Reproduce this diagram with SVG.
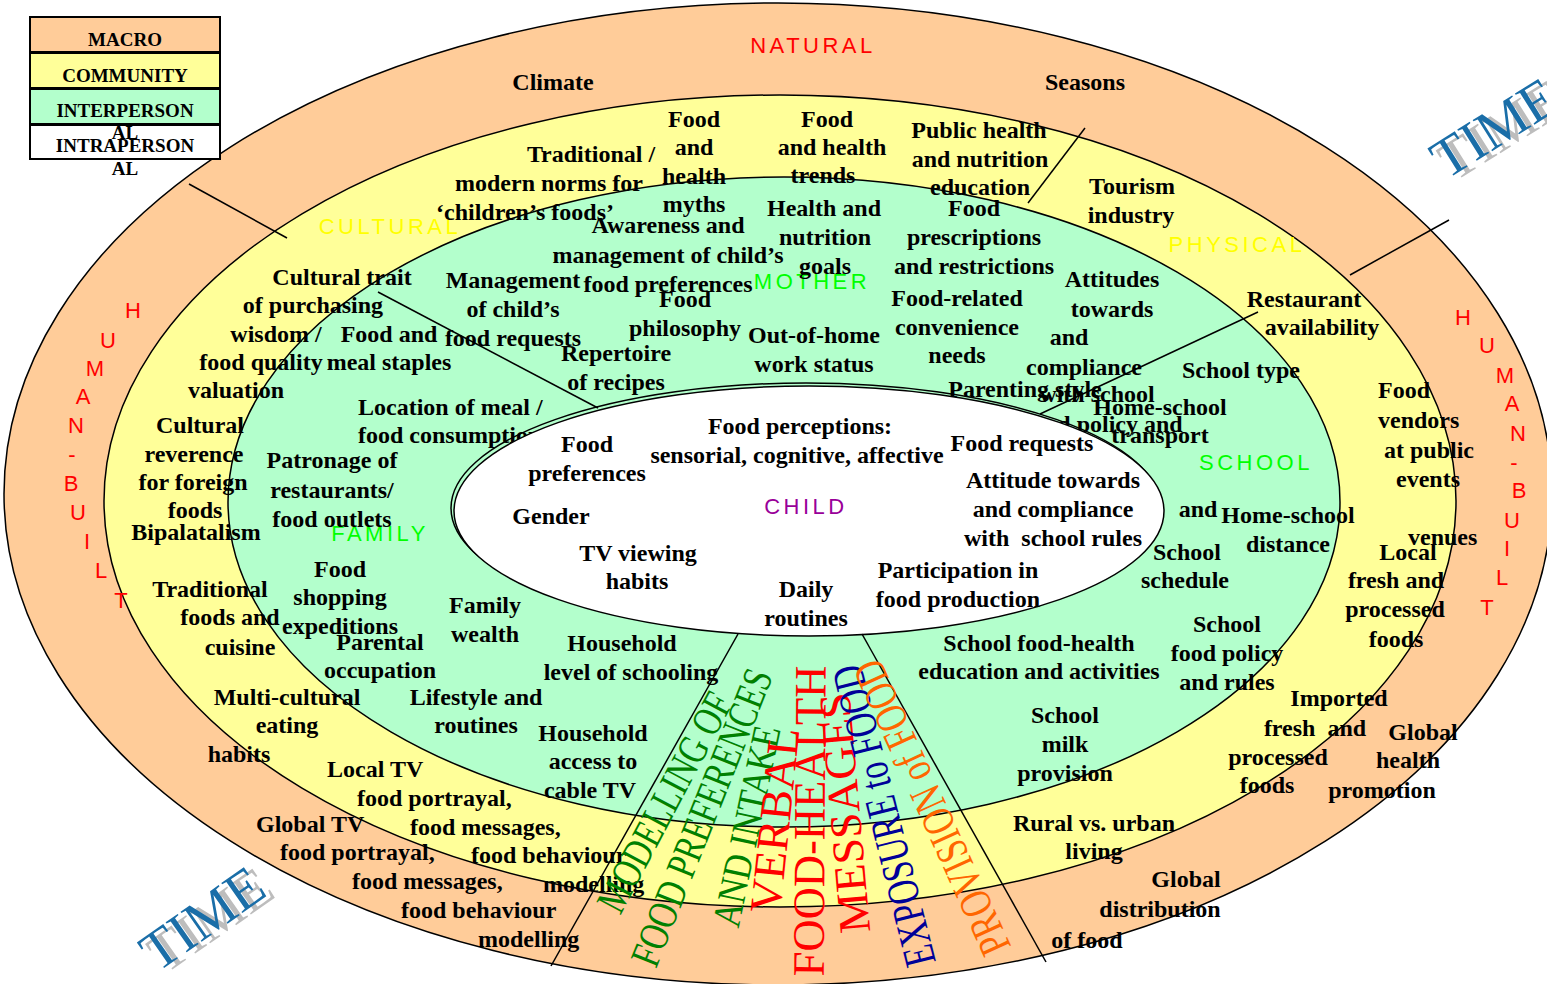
<svg xmlns="http://www.w3.org/2000/svg" width="1547" height="984" viewBox="0 0 1547 984">
<style>
.t{font-family:"Liberation Serif","Times New Roman",serif;font-weight:bold;font-size:24px;fill:#000;text-anchor:middle}
.s{text-anchor:start}
.lb{font-family:"Liberation Sans",Arial,sans-serif;font-size:22px;letter-spacing:3.5px;text-anchor:middle}
.hb{font-family:"Liberation Sans",Arial,sans-serif;font-size:22px;fill:#ff0000;text-anchor:middle}
.ring{stroke:#000;stroke-width:1.5}
.div{stroke:#000;stroke-width:1.5;fill:none}
.wa{font-family:"Liberation Serif","Times New Roman",serif;text-anchor:middle}
.lg{font-family:"Liberation Serif","Times New Roman",serif;font-weight:bold;font-size:19px;text-anchor:middle;fill:#000}
.time{font-family:"Liberation Serif","Times New Roman",serif;font-size:56px}
</style>
<rect width="1547" height="984" fill="#fff"/>
<g id="rings">
<ellipse id="macro" cx="778" cy="494" rx="774" ry="491" fill="#ffcc99" class="ring"/>
<ellipse id="community" cx="780" cy="501" rx="676" ry="406" fill="#ffff99" class="ring"/>
<ellipse id="interpersonal" cx="784" cy="502" rx="556" ry="325" fill="#b3ffcc" class="ring"/>
</g>
<g id="ring-labels">
<text class="lb" x="813" y="53" fill="#ff0000">NATURAL</text>
<text class="lb" x="390" y="234" fill="#ffff00">CULTURAL</text>
<text class="lb" x="1237" y="252" fill="#ffff00">PHYSICAL</text>
<text class="lb" x="812" y="289" fill="#00ff00">MOTHER</text>
<text class="lb" x="380" y="541" fill="#00ff00">FAMILY</text>
<text class="lb" x="1256" y="470" fill="#00ff00">SCHOOL</text>
</g>
<g id="human-built-left">
<text class="hb" x="133" y="318">H</text><text class="hb" x="108" y="348">U</text><text class="hb" x="95" y="376">M</text><text class="hb" x="83" y="404">A</text><text class="hb" x="76" y="433">N</text><text class="hb" x="72" y="462">-</text><text class="hb" x="71" y="491">B</text><text class="hb" x="78" y="520">U</text><text class="hb" x="87" y="549">I</text><text class="hb" x="101" y="578">L</text><text class="hb" x="121" y="608">T</text>
</g>
<g id="human-built-right">
<text class="hb" x="1463" y="325">H</text><text class="hb" x="1487" y="353">U</text><text class="hb" x="1505" y="383">M</text><text class="hb" x="1512" y="411">A</text><text class="hb" x="1518" y="441">N</text><text class="hb" x="1514" y="470">-</text><text class="hb" x="1519" y="498">B</text><text class="hb" x="1512" y="528">U</text><text class="hb" x="1507" y="556">I</text><text class="hb" x="1502" y="585">L</text><text class="hb" x="1487" y="615">T</text>
</g>
<g id="macro-texts">
<text id="climate" class="t" x="553" y="90">Climate</text>
<text id="seasons" class="t" x="1085" y="90">Seasons</text>
<text id="global-tv" class="t s"><tspan x="256" y="832">Global TV</tspan><tspan x="280" y="860">food portrayal,</tspan><tspan x="352" y="889">food messages,</tspan><tspan x="401" y="918">food behaviour</tspan><tspan x="478" y="947">modelling</tspan></text>
<text id="global-dist" class="t"><tspan x="1186" y="887">Global</tspan><tspan x="1160" y="917">distribution</tspan><tspan x="1087" y="948">of food</tspan></text>
<text id="global-health" class="t"><tspan x="1423" y="740">Global</tspan><tspan x="1408" y="768">health</tspan><tspan x="1382" y="798">promotion</tspan></text>
</g>
<g id="community-texts">
<text id="traditional-norms" class="t"><tspan x="591" y="162">Traditional /</tspan><tspan x="549" y="191">modern norms for</tspan><tspan x="525" y="220">‘children’s foods’</tspan></text>
<text id="myths" class="t"><tspan x="694" y="127">Food</tspan><tspan x="694" y="155">and</tspan><tspan x="694" y="184">health</tspan><tspan x="694" y="212">myths</tspan></text>
<text id="trends" class="t"><tspan x="827" y="127">Food</tspan><tspan x="832" y="155">and health</tspan><tspan x="823" y="183">trends</tspan></text>
<text id="public-health" class="t"><tspan x="979" y="138">Public health</tspan><tspan x="980" y="167">and nutrition</tspan><tspan x="980" y="195">education</tspan></text>
<text id="tourism" class="t"><tspan x="1132" y="194">Tourism</tspan><tspan x="1131" y="223">industry</tspan></text>
<text id="restaurant" class="t"><tspan x="1304" y="307">Restaurant</tspan><tspan x="1322" y="335">availability</tspan></text>
<text id="vendors" class="t s"><tspan x="1378" y="398">Food</tspan><tspan x="1378" y="428">vendors</tspan><tspan x="1384" y="458">at public</tspan><tspan x="1396" y="487">events</tspan><tspan x="1408" y="545">venues</tspan></text>
<text id="local-foods" class="t"><tspan x="1408" y="560">Local</tspan><tspan x="1396" y="588">fresh and</tspan><tspan x="1395" y="617">processed</tspan><tspan x="1396" y="647">foods</tspan></text>
<text id="imported" class="t" xml:space="preserve"><tspan x="1339" y="706">Imported</tspan><tspan x="1315" y="736">fresh  and</tspan><tspan x="1278" y="765">processed</tspan><tspan x="1267" y="793">foods</tspan></text>
<text id="rural" class="t"><tspan x="1094" y="831">Rural vs. urban</tspan><tspan x="1094" y="859">living</tspan></text>
<text id="local-tv" class="t s"><tspan x="327" y="777">Local TV</tspan><tspan x="357" y="806">food portrayal,</tspan><tspan x="410" y="835">food messages,</tspan><tspan x="471" y="863">food behaviour</tspan><tspan x="543" y="892">modelling</tspan></text>
<text id="multicultural" class="t"><tspan x="287" y="705">Multi-cultural</tspan><tspan x="287" y="733">eating</tspan><tspan x="239" y="762">habits</tspan></text>
<text id="traditional-foods" class="t"><tspan x="210" y="597">Traditional</tspan><tspan x="230" y="625">foods and</tspan><tspan x="240" y="655">cuisine</tspan></text>
<text id="bipalatalism" class="t" x="196" y="540">Bipalatalism</text>
<text id="reverence" class="t"><tspan x="200" y="433">Cultural</tspan><tspan x="194" y="462">reverence</tspan><tspan x="193" y="490">for foreign</tspan><tspan x="195" y="518">foods</tspan></text>
<text id="cultural-trait" class="t"><tspan x="342" y="285">Cultural trait</tspan><tspan x="313" y="313">of purchasing</tspan><tspan x="276" y="342">wisdom /</tspan><tspan x="261" y="370">food quality</tspan><tspan x="236" y="398">valuation</tspan></text>
</g>
<g id="interpersonal-texts">
<text id="awareness" class="t"><tspan x="668" y="233">Awareness and</tspan><tspan x="668" y="263">management of child’s</tspan><tspan x="668" y="292">food preferences</tspan></text>
<text id="goals" class="t"><tspan x="824" y="216">Health and</tspan><tspan x="825" y="245">nutrition</tspan><tspan x="825" y="274">goals</tspan></text>
<text id="prescriptions" class="t"><tspan x="974" y="216">Food</tspan><tspan x="974" y="245">prescriptions</tspan><tspan x="974" y="274">and restrictions</tspan></text>
<text id="management" class="t"><tspan x="513" y="288">Management</tspan><tspan x="513" y="317">of child’s</tspan><tspan x="513" y="346">food requests</tspan></text>
<text id="philosophy" class="t"><tspan x="685" y="307">Food</tspan><tspan x="685" y="336">philosophy</tspan></text>
<text id="attitudes" class="t"><tspan x="1112" y="287">Attitudes</tspan><tspan x="1112" y="317">towards</tspan><tspan x="1069" y="345">and</tspan><tspan x="1084" y="375">compliance</tspan><tspan x="1097" y="402">with school</tspan><tspan x="1104" y="432">food policy and</tspan></text>
<text id="convenience" class="t"><tspan x="957" y="306">Food-related</tspan><tspan x="957" y="335">convenience</tspan><tspan x="957" y="363">needs</tspan></text>
<text id="work" class="t"><tspan x="814" y="343">Out-of-home</tspan><tspan x="814" y="372">work status</tspan></text>
<text id="recipes" class="t"><tspan x="616" y="361">Repertoire</tspan><tspan x="616" y="390">of recipes</tspan></text>
<text id="parenting" class="t" x="1025" y="397">Parenting style</text>
<text id="transport" class="t"><tspan x="1160" y="415">Home-school</tspan><tspan x="1160" y="443">transport</tspan></text>
<text id="school-type" class="t" x="1241" y="378">School type</text>
<text id="staples" class="t"><tspan x="389" y="342">Food and</tspan><tspan x="389" y="370">meal staples</tspan></text>
<text id="location" class="t s"><tspan x="358" y="415">Location of meal /</tspan><tspan x="358" y="443">food consumption</tspan></text>
<text id="patronage" class="t"><tspan x="332" y="468">Patronage of</tspan><tspan x="332" y="498">restaurants/</tspan><tspan x="332" y="527">food outlets</tspan></text>
<text id="shopping" class="t"><tspan x="340" y="577">Food</tspan><tspan x="340" y="605">shopping</tspan><tspan x="340" y="634">expeditions</tspan></text>
<text id="parental" class="t"><tspan x="380" y="650">Parental</tspan><tspan x="380" y="678">occupation</tspan></text>
<text id="wealth" class="t"><tspan x="485" y="613">Family</tspan><tspan x="485" y="642">wealth</tspan></text>
<text id="schooling" class="t"><tspan x="622" y="651">Household</tspan><tspan x="631" y="680">level of schooling</tspan></text>
<text id="lifestyle" class="t"><tspan x="476" y="705">Lifestyle and</tspan><tspan x="476" y="733">routines</tspan></text>
<text id="cable" class="t"><tspan x="593" y="741">Household</tspan><tspan x="593" y="769">access to</tspan><tspan x="590" y="798">cable TV</tspan></text>
<text id="school-edu" class="t"><tspan x="1039" y="651">School food-health</tspan><tspan x="1039" y="679">education and activities</tspan></text>
<text id="milk" class="t"><tspan x="1065" y="723">School</tspan><tspan x="1065" y="752">milk</tspan><tspan x="1065" y="781">provision</tspan></text>
<text id="school-policy" class="t"><tspan x="1227" y="632">School</tspan><tspan x="1227" y="661">food policy</tspan><tspan x="1227" y="690">and rules</tspan></text>
<text id="stray-and" class="t" x="1198" y="517">and</text>
<text id="distance" class="t"><tspan x="1288" y="523">Home-school</tspan><tspan x="1288" y="552">distance</tspan></text>
<text id="schedule" class="t"><tspan x="1187" y="560">School</tspan><tspan x="1185" y="588">schedule</tspan></text>
</g>
<g id="child">
<ellipse cx="806" cy="508" rx="355" ry="125" fill="none" stroke="#000" stroke-width="1.5"/>
<ellipse cx="809" cy="511" rx="355" ry="125" fill="#fff" stroke="#000" stroke-width="1.5"/>
<text class="lb" x="806" y="514" fill="#990099">CHILD</text>
<text id="perceptions" class="t"><tspan x="800" y="434">Food perceptions:</tspan><tspan x="797" y="463">sensorial, cognitive, affective</tspan></text>
<text id="preferences" class="t"><tspan x="587" y="452">Food</tspan><tspan x="587" y="481">preferences</tspan></text>
<text id="requests" class="t" x="1022" y="451">Food requests</text>
<text id="gender" class="t" x="551" y="524">Gender</text>
<text id="rules" class="t" xml:space="preserve"><tspan x="1053" y="488">Attitude towards</tspan><tspan x="1053" y="517">and compliance</tspan><tspan x="1053" y="546">with  school rules</tspan></text>
<text id="tv" class="t"><tspan x="638" y="561">TV viewing</tspan><tspan x="637" y="589">habits</tspan></text>
<text id="daily" class="t"><tspan x="806" y="597">Daily</tspan><tspan x="806" y="626">routines</tspan></text>
<text id="participation" class="t"><tspan x="958" y="578">Participation in</tspan><tspan x="958" y="607">food production</tspan></text>
</g>
<g id="connectors">
<line class="div" x1="189" y1="184" x2="287" y2="238"/>
<line class="div" x1="1085" y1="128" x2="1028" y2="203"/>
<line class="div" x1="1350" y1="275" x2="1449" y2="220"/>
<line class="div" x1="378" y1="292" x2="598" y2="408"/>
<line class="div" x1="1040" y1="414" x2="1258" y2="312"/>
<line class="div" x1="738" y1="634" x2="551" y2="966"/>
<line class="div" x1="862" y1="634" x2="1046" y2="962"/>
</g>
<g id="wedge-texts">
<text class="wa" transform="translate(664,802) rotate(-62)" dy="0.35em" font-size="42" fill="#008000" textLength="242" lengthAdjust="spacingAndGlyphs">MODELLING OF</text>
<text class="wa" transform="translate(701,817) rotate(-68.2)" dy="0.35em" font-size="42" fill="#008000" textLength="316" lengthAdjust="spacingAndGlyphs">FOOD PREFERENCES</text>
<text class="wa" transform="translate(746,826) rotate(-78)" dy="0.35em" font-size="40" fill="#008000" textLength="204" lengthAdjust="spacingAndGlyphs">AND INTAKE</text>
<text class="wa" transform="translate(774,820) rotate(-84)" dy="0.35em" font-size="45" fill="#ff0000" textLength="186" lengthAdjust="spacingAndGlyphs">VERBAL</text>
<text class="wa" transform="translate(809,821) rotate(-89.6)" dy="0.35em" font-size="45" fill="#ff0000" textLength="311" lengthAdjust="spacingAndGlyphs">FOOD-HEALTH</text>
<text class="wa" transform="translate(844,813) rotate(-95)" dy="0.35em" font-size="45" fill="#ff0000" textLength="241" lengthAdjust="spacingAndGlyphs">MESSAGES</text>
<text class="wa" transform="translate(883,816) rotate(-104.1)" dy="0.35em" font-size="45" fill="#000099" textLength="309" lengthAdjust="spacingAndGlyphs">EXPOSURE to FOOD</text>
<text class="wa" transform="translate(931,808) rotate(-114.5)" dy="0.35em" font-size="45" fill="#ff6600" textLength="319" lengthAdjust="spacingAndGlyphs">PROVISION of FOOD</text>
</g>
<g id="time-top" transform="translate(1446,180) rotate(-32)">
<text class="time" x="6" y="6" fill="#bdbdbd">TIME</text>
<text class="time" x="0" y="0" fill="#1a6ea8">TIME</text>
</g>
<g id="time-bottom" transform="translate(157,973) rotate(-35)">
<text class="time" x="6" y="6" fill="#bdbdbd">TIME</text>
<text class="time" x="0" y="0" fill="#1a6ea8">TIME</text>
</g>
<g id="legend">
<rect x="30" y="17" width="190" height="35" fill="#ffcc99" stroke="#000" stroke-width="2"/>
<rect x="30" y="53" width="190" height="35" fill="#ffff99" stroke="#000" stroke-width="2"/>
<rect x="30" y="89" width="190" height="35" fill="#b3ffcc" stroke="#000" stroke-width="2"/>
<rect x="30" y="125" width="190" height="34" fill="#fff" stroke="#000" stroke-width="2"/>
<text class="lg" x="125" y="46">MACRO</text>
<text class="lg" x="125" y="82">COMMUNITY</text>
<text class="lg"><tspan x="125" y="117">INTERPERSON</tspan><tspan x="125" y="139">AL</tspan></text>
<text class="lg"><tspan x="125" y="152">INTRAPERSON</tspan><tspan x="125" y="175">AL</tspan></text>
</g>
</svg>
